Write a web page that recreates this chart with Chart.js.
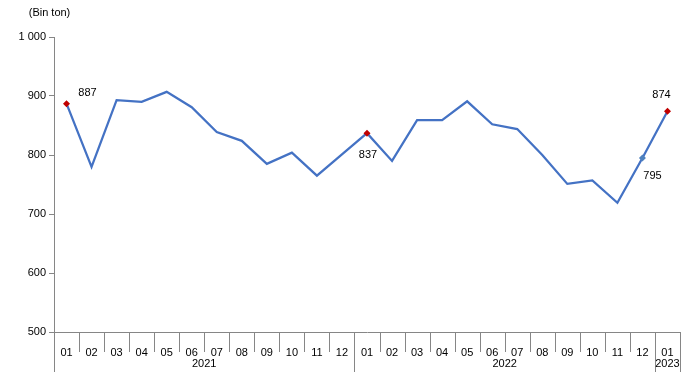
<!DOCTYPE html>
<html>
<head>
<meta charset="utf-8">
<script src="https://cdn.jsdelivr.net/npm/chart.js@4/dist/chart.umd.min.js"></script>
<style>
html,body{margin:0;padding:0;background:#fff;}
#wrap{width:691px;height:376px;position:relative;}
</style>
</head>
<body>
<div id="wrap"><canvas id="c" width="691" height="376"></canvas></div>
<script>
const months = ["01","02","03","04","05","06","07","08","09","10","11","12",
                "01","02","03","04","05","06","07","08","09","10","11","12",
                "01"];
const years = ["2021","2022","2023"];
const yearSpans = [12, 12, 1];
const values = [887, 780, 893, 890, 907, 881, 839, 824, 785, 804, 765, 801,
                837, 790, 859, 859, 891, 852, 844, 800, 751, 757, 719, 795,
                874];
const yTicks = [500, 600, 700, 800, 900, 1000];
const unitLabel = "(Bin ton)";
// indices of labelled points and where their label sits
const labelled = [
  {i: 0, dx: 21, dy: -11, color: "#C00000"},
  {i: 12, dx: 1, dy: 22, color: "#C00000"},
  {i: 23, dx: 10, dy: 18, color: "#4F81BD"},
  {i: 24, dx: -6, dy: -16, color: "#C00000"}
];

const FONT = "'Liberation Sans', Arial, sans-serif";
const AXIS = "#868686";

const extras = {
  id: 'extras',
  afterDraw(chart) {
    const ctx = chart.ctx;
    const x = chart.scales.x;
    const area = chart.chartArea;
    const b = area.bottom;
    ctx.save();
    ctx.strokeStyle = AXIS;
    ctx.lineWidth = 1;
    const n = months.length;
    const bound = k => {
      if (k === 0) return x.getPixelForValue(0) - (x.getPixelForValue(1) - x.getPixelForValue(0)) / 2;
      if (k === n) return x.getPixelForValue(n - 1) + (x.getPixelForValue(n - 1) - x.getPixelForValue(n - 2)) / 2;
      return (x.getPixelForValue(k - 1) + x.getPixelForValue(k)) / 2;
    };
    const yb = new Set([0]);
    let acc = 0;
    yearSpans.forEach(s => { acc += s; yb.add(acc); });
    for (let k = 0; k <= n; k++) {
      const px = Math.round(bound(k)) + 0.5;
      ctx.beginPath();
      ctx.moveTo(px, b);
      ctx.lineTo(px, yb.has(k) ? b + 40 : b + 20);
      ctx.stroke();
    }
    ctx.fillStyle = "#000";
    ctx.font = "11px " + FONT;
    ctx.textAlign = "center";
    ctx.textBaseline = "middle";
    acc = 0;
    years.forEach((yr, j) => {
      const l = bound(acc), r = bound(acc + yearSpans[j]);
      ctx.fillText(yr, (l + r) / 2, b + 31.5);
      acc += yearSpans[j];
    });
    ctx.fillText(unitLabel, 49.5, 13);
    const meta = chart.getDatasetMeta(0);
    labelled.forEach(o => {
      const p = meta.data[o.i];
      ctx.fillText(String(values[o.i]), p.x + o.dx, p.y + o.dy);
    });
    ctx.restore();
  }
};

const markerColor = {};
labelled.forEach(o => markerColor[o.i] = o.color);

new Chart(document.getElementById('c'), {
  type: 'line',
  data: {
    labels: months,
    datasets: [{
      data: values,
      borderColor: "#4472C4",
      borderWidth: 2.25,
      tension: 0,
      pointStyle: 'rectRot',
      pointRadius: c => markerColor[c.dataIndex] ? 3.5 : 0,
      pointBackgroundColor: c => markerColor[c.dataIndex] || "#4472C4",
      pointBorderColor: c => markerColor[c.dataIndex] || "#4472C4",
      pointBorderWidth: 0,
      pointHoverRadius: 0
    }]
  },
  options: {
    responsive: false,
    animation: false,
    events: [],
    layout: {padding: {top: 37, right: 11, left: 0, bottom: 0}},
    plugins: {legend: {display: false}, tooltip: {enabled: false}, title: {display: false}},
    scales: {
      x: {
        type: 'category',
        offset: true,
        grid: {display: false},
        border: {display: true, color: AXIS, width: 1},
        ticks: {color: "#000", font: {family: FONT, size: 11}, padding: 6, maxRotation: 0, autoSkip: false},
        afterFit: s => { s.height = 44; }
      },
      y: {
        min: 500, max: 1000,
        afterBuildTicks: s => { s.ticks = yTicks.map(v => ({value: v})); },
        grid: {drawOnChartArea: false, drawTicks: true, tickLength: 5, color: AXIS},
        border: {display: true, color: AXIS, width: 1},
        ticks: {
          color: "#000", font: {family: FONT, size: 11}, padding: 3,
          callback: v => String(v).replace(/\B(?=(\d{3})+(?!\d))/g, " ")
        },
        afterFit: s => { s.width = 54; }
      }
    }
  },
  plugins: [extras]
});
</script>
</body>
</html>
